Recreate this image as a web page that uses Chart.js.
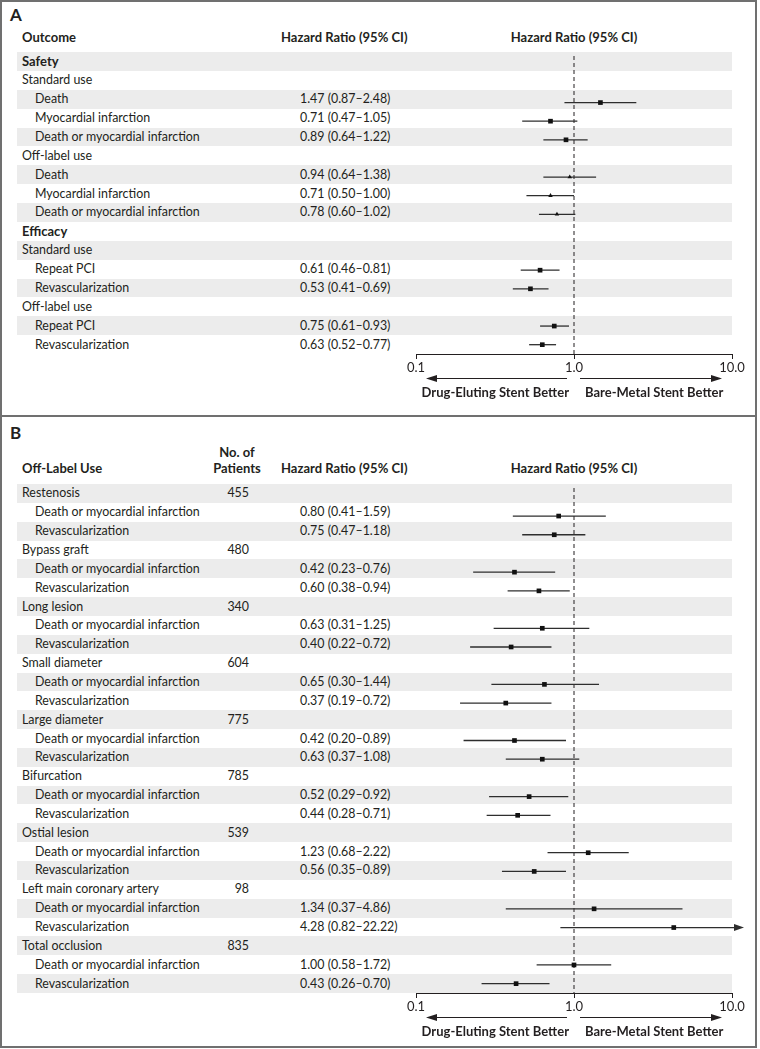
<!DOCTYPE html>
<html>
<head>
<meta charset="utf-8">
<script src="https://cdn.jsdelivr.net/npm/chart.js@4/dist/chart.umd.min.js"></script>
<style>
  body { margin: 0; background: #fff; }
  #page { position: relative; width: 760px; height: 1049px; overflow: hidden; font-family: Lato, 'Noto Sans', sans-serif; color: #231f20; }
  .frame { position: absolute; left: 0; top: 0; width: 757px; height: 1048px; box-sizing: border-box; border: 2px solid #707070; }
  .divider { position: absolute; left: 0; top: 415px; width: 757px; height: 2px; background: #707070; }
  .band { position: absolute; left: 17px; width: 715px; background: #ececec; }
  .t { position: absolute; height: 20px; line-height: 20px; font-size: 12.4px; white-space: nowrap; }
  .b { font-weight: bold; font-size: 13px; }
  .letter { font-size: 17px; font-weight: bold; }
  .wrap { position: absolute; }
</style>
</head>
<body>
<div id="page"></div>
<script>
'use strict';
//****************************
//DATA
//****************************
// panel A, one entry per row (null = heading row)
var rowsA = ['Safety', 'Standard use', 'Death', 'Myocardial infarction', 'Death or myocardial infarction',
  'Off-label use', 'Death', 'Myocardial infarction', 'Death or myocardial infarction',
  'Efficacy', 'Standard use', 'Repeat PCI', 'Revascularization', 'Off-label use', 'Repeat PCI', 'Revascularization'];
var levelA = [0, 1, 2, 2, 2, 1, 2, 2, 2, 0, 1, 2, 2, 1, 2, 2];
var hrA = [null, null, 1.47, 0.71, 0.89, null, 0.94, 0.71, 0.78, null, null, 0.61, 0.53, null, 0.75, 0.63];
var lowA = [null, null, 0.87, 0.47, 0.64, null, 0.64, 0.50, 0.60, null, null, 0.46, 0.41, null, 0.61, 0.52];
var highA = [null, null, 2.48, 1.05, 1.22, null, 1.38, 1.00, 1.02, null, null, 0.81, 0.69, null, 0.93, 0.77];
var markA = ['', '', 'rect', 'rect', 'rect', '', 'triangle', 'triangle', 'triangle', '', '', 'rect', 'rect', '', 'rect', 'rect'];

// panel B
var subgroupsB = ['Restenosis', 'Bypass graft', 'Long lesion', 'Small diameter', 'Large diameter',
  'Bifurcation', 'Ostial lesion', 'Left main coronary artery', 'Total occlusion'];
var patientsB = [455, 480, 340, 604, 775, 785, 539, 98, 835];
var outcomesB = ['Death or myocardial infarction', 'Revascularization'];
var hrDeathMI = [0.80, 0.42, 0.63, 0.65, 0.42, 0.52, 1.23, 1.34, 1.00];
var lowDeathMI = [0.41, 0.23, 0.31, 0.30, 0.20, 0.29, 0.68, 0.37, 0.58];
var highDeathMI = [1.59, 0.76, 1.25, 1.44, 0.89, 0.92, 2.22, 4.86, 1.72];
var hrRevasc = [0.75, 0.60, 0.40, 0.37, 0.63, 0.44, 0.56, 4.28, 0.43];
var lowRevasc = [0.47, 0.38, 0.22, 0.19, 0.37, 0.28, 0.35, 0.82, 0.26];
var highRevasc = [1.18, 0.94, 0.72, 0.72, 1.08, 0.71, 0.89, 22.22, 0.70];

var axisTicks = [0.1, 1, 10];

//****************************
//LAYOUT HELPERS
//****************************
var page = document.getElementById('page');
var INK = '#231f20';

function el(cls, css) {
  var d = document.createElement('div');
  d.className = cls;
  for (var k in css) { d.style[k] = css[k]; }
  page.appendChild(d);
  return d;
}

function txt(s, x, y, align, cls) {
  var d = el('t' + (cls ? ' ' + cls : ''), { top: (y - 10) + 'px' });
  d.textContent = s;
  if (align === 'right') {
    d.style.right = (760 - x) + 'px';
  } else if (align === 'center') {
    d.style.left = (x - 150) + 'px';
    d.style.width = '300px';
    d.style.textAlign = 'center';
  } else {
    d.style.left = x + 'px';
  }
  return d;
}

function fmt(hr, lo, hi) {
  return hr.toFixed(2) + ' (' + lo.toFixed(2) + '\u2013' + hi.toFixed(2) + ')';
}

el('frame', {});
el('divider', {});

//****************************
//PANEL BUILDER
//****************************
function panel(rows, top, bottom, id) {
  var n = rows.length;
  var rowH = (bottom - top) / n;

  for (var i = 0; i < n; i++) {
    var r = rows[i];
    var y = top + i * rowH;
    if (i % 2 === 0) {
      el('band', { top: y + 'px', height: rowH + 'px' });
    }
    var cy = y + rowH / 2;
    txt(r.label, r.level === 2 ? 35 : 22, cy, 'left', r.level === 0 ? 'b' : '');
    if (r.n != null) { txt(String(r.n), 249, cy, 'right'); }
    if (r.hr != null) { txt(fmt(r.hr, r.lo, r.hi), 300, cy, 'left'); }
  }

  var left = 400, width = 350;
  var wrap = el('wrap', { left: left + 'px', top: top + 'px', width: width + 'px', height: (bottom - top + 30) + 'px' });
  var canvas = document.createElement('canvas');
  canvas.id = id;
  canvas.width = width;
  canvas.height = bottom - top + 30;
  wrap.appendChild(canvas);

  var points = [], styles = [], radii = [];
  for (var j = 0; j < n; j++) {
    if (rows[j].hr == null) continue;
    points.push({ x: rows[j].hr, y: j });
    styles.push(rows[j].mark || 'rect');
    radii.push(rows[j].mark === 'triangle' ? 2.6 : 3.3);
  }

  var forest = {
    id: 'forest' + id,
    beforeDatasetsDraw: function(chart) {
      var ctx = chart.ctx, xs = chart.scales.x, ys = chart.scales.y, area = chart.chartArea;
      var one = xs.getPixelForValue(1);
      ctx.save();
      ctx.strokeStyle = INK;
      ctx.lineWidth = 1;
      ctx.setLineDash([4, 3]);
      ctx.beginPath();
      ctx.moveTo(one, area.top);
      ctx.lineTo(one, area.bottom);
      ctx.stroke();
      ctx.setLineDash([]);

      ctx.strokeStyle = '#2e2e2e';
      ctx.fillStyle = '#2e2e2e';
      ctx.lineWidth = 1.3;
      for (var k = 0; k < n; k++) {
        var r = rows[k];
        if (r.lo == null) continue;
        var py = ys.getPixelForValue(k);
        var x1 = xs.getPixelForValue(r.lo);
        var over = r.hi > xs.max;
        var x2 = over ? area.right + 3 : xs.getPixelForValue(r.hi);
        ctx.beginPath();
        ctx.moveTo(x1, py);
        ctx.lineTo(x2, py);
        ctx.stroke();
        if (over) {
          ctx.beginPath();
          ctx.moveTo(x2 + 9, py);
          ctx.lineTo(x2 - 1, py - 3.5);
          ctx.lineTo(x2 - 1, py + 3.5);
          ctx.closePath();
          ctx.fill();
        }
      }
      ctx.restore();
    },
    afterDraw: function(chart) {
      var ctx = chart.ctx, xs = chart.scales.x, area = chart.chartArea;
      var one = xs.getPixelForValue(1);
      var ay = area.bottom + 24.5;
      ctx.save();
      ctx.strokeStyle = INK;
      ctx.fillStyle = INK;
      ctx.lineWidth = 1.2;
      // left arrow
      ctx.beginPath();
      ctx.moveTo(one - 7, ay);
      ctx.lineTo(area.left + 20, ay);
      ctx.stroke();
      ctx.beginPath();
      ctx.moveTo(area.left + 10, ay);
      ctx.lineTo(area.left + 21, ay - 3.5);
      ctx.lineTo(area.left + 21, ay + 3.5);
      ctx.closePath();
      ctx.fill();
      // right arrow
      ctx.beginPath();
      ctx.moveTo(one + 6, ay);
      ctx.lineTo(area.right - 20, ay);
      ctx.stroke();
      ctx.beginPath();
      ctx.moveTo(area.right - 10, ay);
      ctx.lineTo(area.right - 21, ay - 3.5);
      ctx.lineTo(area.right - 21, ay + 3.5);
      ctx.closePath();
      ctx.fill();
      ctx.restore();
    }
  };

  new Chart(canvas, {
    type: 'scatter',
    data: {
      datasets: [{
        data: points,
        pointStyle: styles,
        pointRadius: radii,
        backgroundColor: '#111',
        borderColor: '#111',
        borderWidth: 0
      }]
    },
    options: {
      responsive: false,
      animation: false,
      events: [],
      layout: { padding: { left: 16, right: 18, top: 0, bottom: 0 } },
      plugins: { legend: { display: false }, tooltip: { enabled: false } },
      scales: {
        x: {
          type: 'logarithmic',
          min: 0.1,
          max: 10,
          afterBuildTicks: function(s) {
            s.ticks = axisTicks.map(function(v) { return { value: v }; });
          },
          afterFit: function(s) { s.height = 30; },
          ticks: {
            autoSkip: false,
            maxRotation: 0,
            padding: 1,
            color: INK,
            font: { family: 'Lato', size: 13 },
            callback: function(v) { return Number(v).toFixed(1); }
          },
          grid: { drawOnChartArea: false, tickLength: 5, color: INK, lineWidth: 1 },
          border: { color: INK, width: 1 }
        },
        y: {
          type: 'linear',
          display: false,
          reverse: true,
          min: -0.5,
          max: n - 0.5
        }
      }
    },
    plugins: [forest]
  });

  txt('Drug-Eluting Stent Better', 569, bottom + 38, 'right', 'b');
  txt('Bare-Metal Stent Better', 585, bottom + 38, 'left', 'b');
}

//****************************
//PANEL A
//****************************
var tableA = [];
for (var a = 0; a < rowsA.length; a++) {
  tableA.push({ label: rowsA[a], level: levelA[a], hr: hrA[a], lo: lowA[a], hi: highA[a], mark: markA[a] });
}
txt('A', 10, 15, 'left', 'letter');
txt('Outcome', 22, 37, 'left', 'b');
txt('Hazard Ratio (95% CI)', 281, 37, 'left', 'b');
txt('Hazard Ratio (95% CI)', 574, 37, 'center', 'b');
panel(tableA, 52, 354, 'chartA');

//****************************
//PANEL B
//****************************
var tableB = [];
for (var b = 0; b < subgroupsB.length; b++) {
  tableB.push({ label: subgroupsB[b], level: 1, n: patientsB[b] });
  tableB.push({ label: outcomesB[0], level: 2, hr: hrDeathMI[b], lo: lowDeathMI[b], hi: highDeathMI[b] });
  tableB.push({ label: outcomesB[1], level: 2, hr: hrRevasc[b], lo: lowRevasc[b], hi: highRevasc[b] });
}
txt('B', 10, 433, 'left', 'letter');
txt('No. of', 237, 452, 'center', 'b');
txt('Patients', 237, 468, 'center', 'b');
txt('Off-Label Use', 22, 468, 'left', 'b');
txt('Hazard Ratio (95% CI)', 281, 468, 'left', 'b');
txt('Hazard Ratio (95% CI)', 574, 468, 'center', 'b');
panel(tableB, 484, 993, 'chartB');
</script>
</body>
</html>
